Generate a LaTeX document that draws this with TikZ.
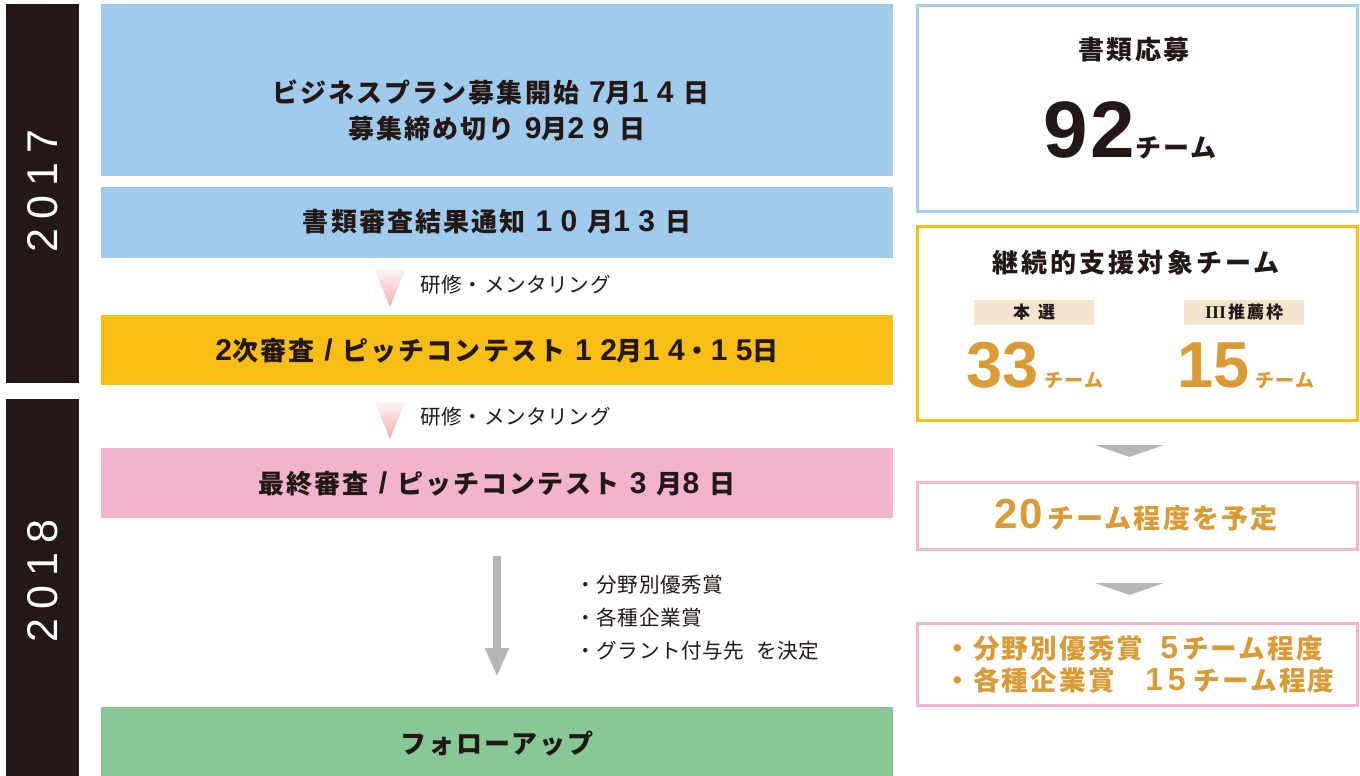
\documentclass[tikz,border=0pt]{standalone}
\usepackage{fontspec}
\usetikzlibrary{arrows.meta}
\setmainfont{Noto Sans CJK JP}
\newfontfamily\jp{Noto Sans CJK JP}[LetterSpace=8]
\newfontfamily\jpr{Noto Sans CJK JP}[LetterSpace=3]
\newfontfamily\hv{Liberation Sans}
\newfontfamily\hvs{Liberation Sans}[LetterSpace=28]
\newfontfamily\yr{Liberation Sans}[LetterSpace=21]
\newfontfamily\tms{Liberation Serif}
\newcommand\dg[1]{{\fontsize{15}{15}\selectfont\hvs\bfseries #1}}
\newcommand\gap{\hspace{5pt}}
\definecolor{cblue}{HTML}{A0CBEC}
\definecolor{cyel}{HTML}{F7BE16}
\definecolor{cpink}{HTML}{F2B3CF}
\definecolor{cgreen}{HTML}{88C896}
\definecolor{cdark}{HTML}{231815}
\definecolor{cgold}{HTML}{D89B36}
\definecolor{clabel}{HTML}{F3E4CF}
\definecolor{cbord}{HTML}{A6CEEE}
\definecolor{cgray}{HTML}{B5B6B6}
\definecolor{ctri}{HTML}{F2AFAE}
\tikzset{
  mainbox/.style={inner sep=0pt, minimum width=396pt},
  yearbar/.style={fill=cdark, inner sep=0pt, minimum width=36.5pt},
  yeartext/.style={rotate=90, text=white, font=\yr\fontsize{21.5}{22}\selectfont, inner sep=0pt},
  maintext/.style={text=cdark, font=\jp\bfseries\fontsize{13}{15}\selectfont, inner sep=0pt},
  smalltext/.style={text=cdark, font=\jpr\fontsize{10.3}{12}\selectfont, inner sep=0pt},
  rbox/.style={line width=1.5pt, fill=white, inner sep=0pt, minimum width=220pt},
  goldtext/.style={text=cgold, font=\jp\bfseries\fontsize{13}{15}\selectfont, inner sep=0pt},
  labelbox/.style={fill=clabel, inner sep=0pt, minimum width=60pt, minimum height=12.5pt, text=cdark, font=\jp\bfseries\fontsize{8.5}{9}\selectfont},
  pinktri/.style={top color=ctri!15, bottom color=ctri},
  graytri/.style={fill=cgray},
}
\begin{document}
\begin{tikzpicture}[x=0.5pt,y=-0.5pt]
\useasboundingbox (0,0) rectangle (1360,776);
% year bars
\node[yearbar, minimum height=189.5pt] (y17) at (42.5,193.5) {};
\node[yeartext] (t17) at (42.5,191) {2017};
\node[yearbar, minimum height=188.5pt] (y18) at (42.5,587.5) {};
\node[yeartext] (t18) at (42.5,581) {2018};
% main boxes
\node[mainbox, fill=cblue, minimum height=86pt] (b1) at (497,90) {};
\node[maintext] (b1a) at (491,92) {ビジネスプラン募集開始\gap\dg{7}月\dg{14}\gap 日};
\node[maintext] (b1b) at (497,129) {募集締め切り\gap\dg{9}月\dg{29}\gap 日};
\node[mainbox, fill=cblue, minimum height=35.5pt] (b2) at (497,222.5) {};
\node[maintext] (b2t) at (497,222) {書類審査結果通知\gap\dg{10}\gap 月\dg{13}\gap 日};
\node[mainbox, fill=cyel, minimum height=35pt] (b3) at (497,350) {};
\node[maintext] (b3t) at (497,351) {\dg{2}次審査\gap\dg{/}\gap ピッチコンテスト\gap\dg{12}月\dg{14}・\dg{15}日};
\node[mainbox, fill=cpink, minimum height=35pt] (b4) at (497,483) {};
\node[maintext] (b4t) at (497,484) {最終審査\gap\dg{/}\gap ピッチコンテスト\gap\dg{3}\gap 月\dg{8}\gap 日};
\node[mainbox, fill=cgreen, minimum height=34.5pt] (b5) at (497,741.5) {};
\node[maintext] (b5t) at (497,744) {フォローアップ};
% pink triangles and training text
\shade[pinktri] (375,270) -- (405,270) -- (390,307) -- cycle;
\node[smalltext, anchor=west] (m1) at (420,285) {研修・メンタリング};
\shade[pinktri] (375,402) -- (405,402) -- (390,439) -- cycle;
\node[smalltext, anchor=west] (m2) at (420,417) {研修・メンタリング};
% gray arrow
\coordinate (aS) at (497,556);
\coordinate (aE) at (497,677);
\draw[cgray, line width=4pt, -{Triangle[width=11pt,length=14.5pt]}] (aS) -- (aE);
\node[smalltext, anchor=west] (l1) at (575,585) {・分野別優秀賞};
\node[smalltext, anchor=west] (l2) at (575,618) {・各種企業賞};
\node[smalltext, anchor=west] (l3) at (575,651) {・グラント付与先\hspace{6pt}を決定};
% right column
\node[rbox, draw=cbord, minimum height=103pt] (r1) at (1137.5,108) {};
\node[maintext] (r1t) at (1134,50) {書類応募};
\node[text=cdark, inner sep=0pt, anchor=base] (r1n) at (1130,157) {{\hv\bfseries\fontsize{40}{40}\selectfont\addfontfeature{LetterSpace=3}92}{\jp\bfseries\fontsize{13}{13}\selectfont チーム}};
\node[rbox, draw=cyel, minimum height=97pt] (r2) at (1137.5,323.5) {};
\node[maintext, font=\jp\bfseries\fontsize{13}{15}\selectfont\addfontfeature{LetterSpace=12}] (r2t) at (1136,263) {継続的支援対象チーム};
\node[labelbox] (lb1) at (1034,312.5) {本\hspace{4pt}選};
\node[labelbox] (lb2) at (1244,312.5) {{\tms\fontsize{9}{9}\selectfont III}\hspace{1pt}推\hspace{1pt}薦\hspace{1pt}枠};
\node[text=cgold, inner sep=0pt, anchor=base] (n33) at (1035,387) {{\hv\bfseries\fontsize{32.5}{32}\selectfont 33}\hspace{3pt}{\jp\bfseries\fontsize{9.5}{10}\selectfont チーム}};
\node[text=cgold, inner sep=0pt, anchor=base] (n15) at (1246,387) {{\hv\bfseries\fontsize{32.5}{32}\selectfont 15}\hspace{3pt}{\jp\bfseries\fontsize{9.5}{10}\selectfont チーム}};
\fill[graytri] (1095,445) -- (1164,445) -- (1129.5,457) -- cycle;
\node[rbox, draw=cpink, minimum height=33.5pt] (r3) at (1137.5,515.5) {};
\node[goldtext, anchor=base, font=\jp\bfseries\fontsize{13.5}{15}\selectfont] (r3t) at (1136,528) {{\hv\bfseries\fontsize{21}{21}\selectfont\addfontfeature{LetterSpace=5}20}\hspace{2pt}チーム程度を予定};
\fill[graytri] (1095,583) -- (1164,583) -- (1129.5,595) -- cycle;
\node[rbox, draw=cpink, minimum height=41pt] (r4) at (1137.5,664) {};
\node[goldtext, anchor=base west, font=\jp\bfseries\fontsize{13.3}{15}\selectfont] (r4a) at (944,658) {・分野別優秀賞};
\node[goldtext, anchor=base west, font=\jp\bfseries\fontsize{13.3}{15}\selectfont] (r4b) at (1160,658) {{\hv\bfseries\fontsize{16}{16}\selectfont 5}\hspace{2pt}チーム程度};
\node[goldtext, anchor=base west, font=\jp\bfseries\fontsize{13.3}{15}\selectfont] (r4c) at (944,690) {・各種企業賞};
\node[goldtext, anchor=base west, font=\jp\bfseries\fontsize{13.3}{15}\selectfont] (r4d) at (1145,690) {{\hv\bfseries\fontsize{16}{16}\selectfont\addfontfeature{LetterSpace=15}15}\hspace{4pt}チーム程度};
\end{tikzpicture}
\end{document}
